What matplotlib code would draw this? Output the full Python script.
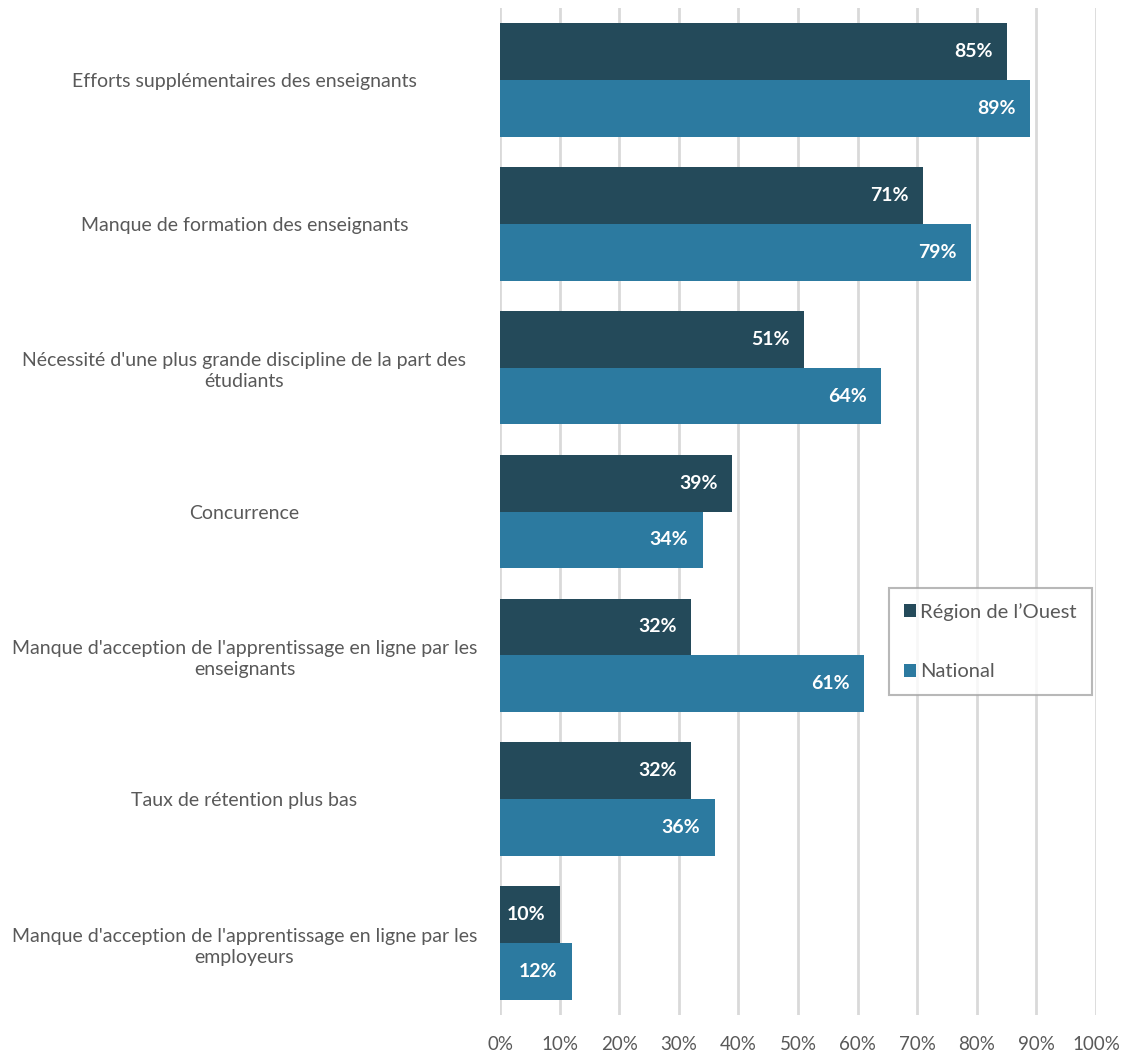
import matplotlib
matplotlib.use('Agg')
import matplotlib.pyplot as plt
import numpy as np

plt.rcParams['font.family'] = ['Lato', 'DejaVu Sans']

categories = [
    "Efforts supplémentaires des enseignants",
    "Manque de formation des enseignants",
    "Nécessité d'une plus grande discipline de la part des\nétudiants",
    "Concurrence",
    "Manque d'acception de l'apprentissage en ligne par les\nenseignants",
    "Taux de rétention plus bas",
    "Manque d'acception de l'apprentissage en ligne par les\nemployeurs",
]
region_ouest = [85, 71, 51, 39, 32, 32, 10]
national = [89, 79, 64, 34, 61, 36, 12]
series_names = ["Région de l’Ouest", "National"]
xticks = [0, 10, 20, 30, 40, 50, 60, 70, 80, 90, 100]

dark = '#244a5a'
light = '#2c7aa0'
text_grey = '#595959'

fig = plt.figure(figsize=(11.27, 10.53), dpi=100)
ax = fig.add_axes([500 / 1127, 1 - 1015 / 1053, 596 / 1127, 1007 / 1053])

y = np.arange(len(categories))
h = 0.395
b1 = ax.barh(y - h / 2, region_ouest, height=h, color=dark, label=series_names[0], zorder=3)
b2 = ax.barh(y + h / 2, national, height=h, color=light, label=series_names[1], zorder=3)

for bars, vals in ((b1, region_ouest), (b2, national)):
    for bar, v in zip(bars, vals):
        ax.text(bar.get_width() - 2.4, bar.get_y() + bar.get_height() / 2, f"{v}%",
                ha='right', va='center', color='white', fontsize=14, fontweight='bold', zorder=4)

ax.set_xlim(0, 100)
ax.set_ylim(len(categories) - 0.5, -0.5)
ax.set_xticks(xticks)
ax.set_xticklabels([f"{t}%" for t in xticks], fontsize=13.5, color=text_grey)
ax.set_yticks(y)
ax.set_yticklabels(categories, fontsize=14, color=text_grey, ha='center', linespacing=1.3)
ax.tick_params(axis='y', length=0, pad=184)
ax.tick_params(axis='x', length=0, pad=15)
ax.xaxis.grid(True, color='#d9d9d9', linewidth=2, zorder=0)
for s in ax.spines.values():
    s.set_visible(False)

leg = ax.legend(loc='upper left', bbox_to_anchor=((889 - 500) / 596, 1 - (588 - 8) / 1007),
                borderaxespad=0, fontsize=14.5, frameon=True, fancybox=False,
                edgecolor='#a6a6a6', handlelength=0.6, handleheight=0.6, handletextpad=0.2,
                labelspacing=2.1, borderpad=0.75, labelcolor=text_grey)
leg.get_frame().set_linewidth(1.5)

fig.savefig('out.png', dpi=100)
